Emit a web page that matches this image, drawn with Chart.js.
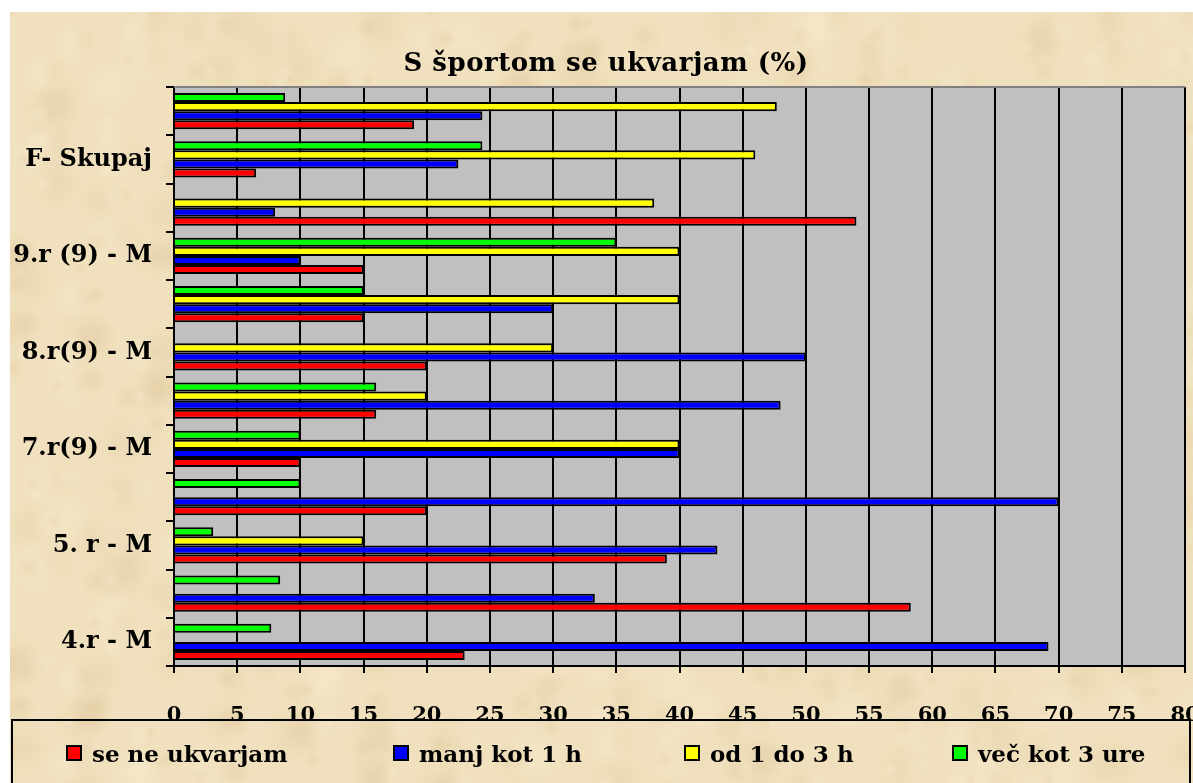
<!DOCTYPE html>
<html><head><meta charset="utf-8">
<script src="https://cdn.jsdelivr.net/npm/chart.js@4/dist/chart.umd.min.js"></script>
<style>html,body{margin:0;padding:0;background:#fff;overflow:hidden}#wrap{width:1193px;height:783px;position:relative}</style>
</head><body><div id="wrap"><canvas id="c" width="1193" height="783"></canvas></div>
<script>
// categories listed bottom -> top (as in the original chart); unlabelled slots are empty
const categories = ["4.r - M", "", "5. r - M", "", "7.r(9) - M", "", "8.r(9) - M", "", "9.r (9) - M", "", "F- Skupaj", ""];
const seriesNames = ["se ne ukvarjam", "manj kot 1 h", "od 1 do 3 h", "več kot 3 ure"];
const seNeUkvarjam = [23, 58.3, 39, 20, 10, 16, 20, 15, 15, 54, 6.5, 19];
const manjKot1h    = [69.2, 33.3, 43, 70, 40, 48, 50, 30, 10, 8, 22.5, 24.4];
const od1do3h      = [null, null, 15, null, 40, 20, 30, 40, 40, 38, 46, 47.7];
const vecKot3ure   = [7.7, 8.4, 3.1, 10, 10, 16, null, 15, 35, null, 24.4, 8.8];
const xMin = 0, xMax = 80, xStep = 5;
const titleText = "S športom se ukvarjam (%)";

const colors = ["#ff0000", "#0000ff", "#ffff00", "#00ff00"];
const FONT = "'DejaVu Serif', serif";

function mk(i, data) {
  return { label: seriesNames[i], data: data, backgroundColor: colors[i], borderColor: "#000",
           borderWidth: 2, borderSkipped: "start", categoryPercentage: 0.75, barPercentage: 1.0 };
}

const bgPlugin = {
  id: "bg",
  beforeDraw(chart) {
    const ctx = chart.ctx, W = chart.width, H = chart.height, a = chart.chartArea;
    ctx.save();
    ctx.fillStyle = "#ffffff"; ctx.fillRect(0, 0, W, H);
    ctx.fillStyle = "rgb(240,224,189)"; ctx.fillRect(10, 12, W - 10, H - 12);
    ctx.beginPath(); ctx.rect(10, 12, W - 10, H - 12); ctx.clip();
    for (let i = 0; i < 900; i++) {
      const x = 10 + ((i * 379 + (i % 13) * 17) % 1200), y = 12 + ((i * 211 + (i % 11) * 53) % 790);
      const r = 6 + (i * 37) % 26;
      const g = ctx.createRadialGradient(x, y, 0, x, y, r);
      const dark = (i % 5) < 3;
      g.addColorStop(0, dark ? "rgba(205,175,125,0.16)" : "rgba(252,242,218,0.30)");
      g.addColorStop(1, dark ? "rgba(205,175,125,0)" : "rgba(252,242,218,0)");
      ctx.fillStyle = g; ctx.fillRect(x - r, y - r, 2 * r, 2 * r);
    }
    ctx.restore();
    ctx.save();
    ctx.fillStyle = "#c0c0c0";
    ctx.fillRect(a.left, a.top, a.right - a.left, a.bottom - a.top);
    ctx.restore();
  },
  afterDraw(chart) {
    const ctx = chart.ctx, a = chart.chartArea;
    ctx.save();
    // plot area top edge
    ctx.strokeStyle = "#808080"; ctx.lineWidth = 2;
    ctx.beginPath(); ctx.moveTo(a.left, a.top); ctx.lineTo(a.right, a.top); ctx.stroke();
    // title
    ctx.fillStyle = "#000"; ctx.textAlign = "center"; ctx.textBaseline = "middle";
    ctx.font = "bold 26px " + FONT;
    ctx.letterSpacing = "0.5px";
    ctx.fillText(titleText, 606, 64);
    ctx.letterSpacing = "0px";
    // legend box
    ctx.strokeStyle = "#000"; ctx.lineWidth = 2;
    ctx.strokeRect(12, 720, 1178, 120);
    // legend items (series order)
    const xs = [66, 393, 684, 952];
    ctx.font = "bold 23px " + FONT; ctx.textAlign = "left"; ctx.textBaseline = "alphabetic";
    for (let i = 0; i < 4; i++) {
      ctx.fillStyle = colors[i]; ctx.fillRect(xs[i], 745, 16, 16);
      ctx.lineWidth = 2; ctx.strokeStyle = "#000"; ctx.strokeRect(xs[i] + 1, 746, 14, 14);
      ctx.fillStyle = "#000"; ctx.fillText(seriesNames[i], xs[i] + 26, 762);
    }
    ctx.restore();
  }
};

new Chart(document.getElementById("c"), {
  type: "bar",
  data: {
    labels: categories,
    datasets: [mk(3, vecKot3ure), mk(2, od1do3h), mk(1, manjKot1h), mk(0, seNeUkvarjam)]
  },
  options: {
    indexAxis: "y",
    responsive: false,
    animation: false,
    devicePixelRatio: 1,
    layout: { padding: { left: 10, right: 8, top: 87, bottom: 57 } },
    plugins: { legend: { display: false }, title: { display: false }, tooltip: { enabled: false } },
    scales: {
      x: {
        min: xMin, max: xMax,
        ticks: { stepSize: xStep, color: "#000", font: { family: FONT, size: 21, weight: "bold" }, padding: 30, maxRotation: 0, autoSkip: false },
        grid: { color: "#000", lineWidth: 2, tickLength: 7, drawOnChartArea: true },
        border: { color: "#000", width: 2 },
        afterFit(s) { s.height = 60; s.paddingLeft = 0; s.paddingRight = 0; }
      },
      y: {
        reverse: true,
        ticks: { autoSkip: false, color: "#000", font: { family: FONT, size: 24, weight: "bold" }, padding: 14 },
        grid: { drawOnChartArea: false, drawTicks: true, tickLength: 8, color: "#000", lineWidth: 2, offset: true },
        border: { color: "#000", width: 2 },
        afterFit(s) { s.width = 164; s.paddingTop = 0; s.paddingBottom = 0; }
      }
    }
  },
  plugins: [bgPlugin]
});
</script>
</body></html>
